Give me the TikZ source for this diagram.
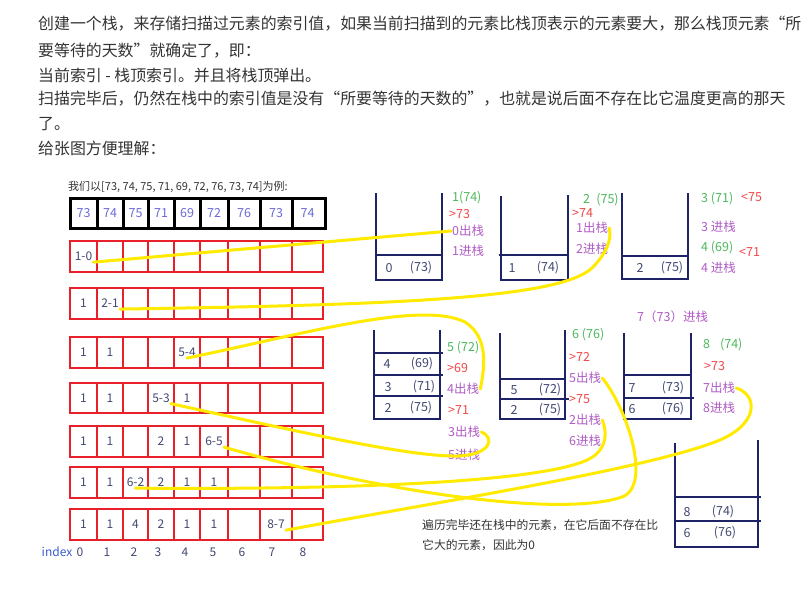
\documentclass[tikz,border=0pt]{standalone}
\usepackage{fontspec}
\setmainfont{Noto Sans CJK SC}
\usetikzlibrary{positioning}

\definecolor{bodygray}{HTML}{333333}
\definecolor{rowred}{HTML}{E8202A}
\definecolor{stacknavy}{HTML}{1E2266}
\definecolor{traceyellow}{HTML}{FFEA00}
\definecolor{cellslate}{HTML}{404870}
\definecolor{topblue}{HTML}{6A6AD8}
\definecolor{idxblue}{HTML}{3B5BCC}
\definecolor{valgreen}{HTML}{4DB85C}
\definecolor{cmpred}{HTML}{F04848}
\definecolor{oppurple}{HTML}{B05CC4}

\tikzset{
  toprow/.style={draw=black,line width=3pt},
  redrow/.style={draw=rowred,line width=2.6pt},
  stackwall/.style={draw=stacknavy,line width=2.9pt},
  trace/.style={draw=traceyellow,line width=3pt,line cap=round},
  para/.style={anchor=west,inner sep=0pt,text=bodygray,font=\fontsize{15.9}{16}\selectfont},
  note/.style={anchor=west,inner sep=0pt,text=bodygray,font=\fontsize{11.8}{12}\selectfont},
  cellnum/.style={inner sep=1pt,text=cellslate,font=\fontsize{12}{12}\selectfont},
  topnum/.style={inner sep=1pt,text=topblue,font=\fontsize{12.5}{13}\selectfont},
  stackitem/.style={inner sep=1pt,text=cellslate,font=\fontsize{12.5}{13}\selectfont},
  lbl/.style={anchor=west,inner sep=1pt,font=\fontsize{12.5}{13}\selectfont},
  arrival/.style={lbl,text=valgreen},
  cmp/.style={lbl,text=cmpred},
  stackop/.style={lbl,text=oppurple}
}

\def\colx{{83.5,110,135.5,161,187,214,244,276,307.5}}

\begin{document}
\begin{tikzpicture}[x=1pt,y=-1pt]
        \useasboundingbox (0,0) rectangle (812,592);

        % Explanation text
        \node[para] (p1) at (38,24) {创建一个栈，来存储扫描过元素的索引值，如果当前扫描到的元素比栈顶表示的元素要大，那么栈顶元素“所};
        \node[para] (p2) at (38,51) {要等待的天数”就确定了，即：};
        \node[para] (p3) at (38,75) {当前索引 - 栈顶索引。并且将栈顶弹出。};
        \node[para] (p4) at (38,99) {扫描完毕后，仍然在栈中的索引值是没有“所要等待的天数的”，也就是说后面不存在比它温度更高的那天};
        \node[para] (p5) at (38,124) {了。};
        \node[para] (p6) at (38,148) {给张图方便理解：};

        % Input array
        \node[note,font=\fontsize{11}{11}\selectfont] (title) at (68,187) {我们以[73, 74, 75, 71, 69, 72, 76, 73, 74]为例:};
        \draw[toprow] (70,198) rectangle (325,228);
        \foreach \x in {97,123,148,174,200,228,260,292}
            \draw[toprow] (\x,198) -- (\x,228);
        \foreach \v [count=\c from 0] in {73,74,75,71,69,72,76,73,74} {
            \pgfmathsetmacro\cx{\colx[\c]}
            \node[topnum] (t\c) at (\cx,213) {\v};
        }

        % Result rows, one per pop
        \foreach \t/\b in {241/272,288/319,337/368,383/413,426/457,467/498,509/540} {
            \draw[redrow] (70,\t) rectangle (323,\b);
            \foreach \x in {97,123,148,174,200,228,260,292}
                \draw[redrow] (\x,\t) -- (\x,\b);
        }
        \foreach \r/\y/\vals in {1/256.5/{0/1-0},
                                2/303.5/{0/1,1/2-1},
                                3/352.5/{0/1,1/1,4/5-4},
                                4/398/{0/1,1/1,3/5-3,4/1},
                                5/441.5/{0/1,1/1,3/2,4/1,5/6-5},
                                6/482.5/{0/1,1/1,2/6-2,3/2,4/1,5/1},
                                7/524.5/{0/1,1/1,2/4,3/2,4/1,5/1,7/8-7}} {
            \foreach \c/\t in \vals {
                \pgfmathsetmacro\cx{\colx[\c]}
                \node[cellnum] (c\r-\c) at (\cx,\y) {\t};
            }
        }

        % Index line
        \node[cellnum,text=idxblue] (idx) at (57,552) {index};
        \foreach \d/\x in {0/80,1/107,2/134,3/158,4/185,5/213,6/242,7/272,8/303}
            \node[cellnum] (i\d) at (\x,552) {\d};

        % Stack 1
        \draw[stackwall] (376,193) -- (376,280) -- (442,280) -- (442,193);
        \draw[stackwall] (376,255) -- (442,255);
        \node[stackitem] (k1) at (389,268) {0};
        \node[stackitem] (v1) at (421,268) {(73)};
        \node[arrival] (a1) at (451,198) {1(74)};
        \node[cmp] (m1) at (448,214) {>73};
        \node[stackop] (out0) at (451,231) {0出栈};
        \node[stackop] (in1) at (451,251) {1进栈};

        % Stack 2
        \draw[stackwall] (501,196) -- (501,280) -- (568,280) -- (568,195);
        \draw[stackwall] (499,255) -- (568,255);
        \node[stackitem] (k2) at (512,268) {1};
        \node[stackitem] (v2) at (548,268) {(74)};
        \node[arrival] (a2) at (582,200) {2\hspace{0.5em}(75)};
        \node[cmp] (m2) at (571,213) {>74};
        \node[stackop] (out1) at (575,228) {1出栈};
        \node[stackop] (in2) at (575,249) {2进栈};

        % Stack 3
        \draw[stackwall] (622,193) -- (622,279) -- (688,279) -- (688,193);
        \draw[stackwall] (622,256) -- (688,256);
        \node[stackitem] (k3) at (640,268) {2};
        \node[stackitem] (v3) at (672,268) {(75)};
        \node[arrival] (a3) at (700,199) {3 (71)};
        \node[cmp] (m3) at (740,197) {<75};
        \node[stackop] (in3) at (700,227) {3 进栈};
        \node[arrival] (a4) at (700,248) {4 (69)};
        \node[cmp] (m4) at (738,252) {<71};
        \node[stackop] (in4) at (700,268) {4 进栈};
        \node[stackop] (in7) at (636,317) {7（73）进栈};

        % Stack 4
        \draw[stackwall] (374,330) -- (374,419) -- (440,419) -- (440,330);
        \foreach \y in {353,375,396}
            \draw[stackwall] (374,\y) -- (443,\y);
        \node[stackitem] (k4a) at (387,364) {4};
        \node[stackitem] (v4a) at (422,364) {(69)};
        \node[stackitem] (k4b) at (388,387) {3};
        \node[stackitem] (v4b) at (424,387) {(71)};
        \node[stackitem] (k4c) at (388,408) {2};
        \node[stackitem] (v4c) at (421,408) {(75)};
        \node[arrival] (a5) at (446,348) {5 (72)};
        \node[cmp] (m5) at (446,368) {>69};
        \node[stackop] (out4) at (446,389) {4出栈};
        \node[cmp] (m6) at (447,410) {>71};
        \node[stackop] (out3) at (447,432) {3出栈};
        \node[stackop] (in5) at (447,455) {5进栈};

        % Stack 5
        \draw[stackwall] (500,333) -- (500,419) -- (565,419) -- (565,330);
        \draw[stackwall] (500,379) -- (565,379);
        \draw[stackwall] (500,399) -- (569,399);
        \node[stackitem] (k5a) at (514,390) {5};
        \node[stackitem] (v5a) at (550,390) {(72)};
        \node[stackitem] (k5b) at (514,410) {2};
        \node[stackitem] (v5b) at (550,410) {(75)};
        \node[arrival] (a6) at (571,335) {6 (76)};
        \node[cmp] (m7) at (568,357) {>72};
        \node[stackop] (out5) at (568,378) {5出栈};
        \node[cmp] (m8) at (568,399) {>75};
        \node[stackop] (out2) at (568,420) {2出栈};
        \node[stackop] (in6) at (568,441) {6进栈};

        % Stack 6
        \draw[stackwall] (624,333) -- (624,419) -- (691,419) -- (691,333);
        \draw[stackwall] (624,375) -- (691,375);
        \draw[stackwall] (624,398) -- (694,398);
        \node[stackitem] (k6a) at (632,388) {7};
        \node[stackitem] (v6a) at (673,388) {(73)};
        \node[stackitem] (k6b) at (632,409) {6};
        \node[stackitem] (v6b) at (673,409) {(76)};
        \node[arrival] (a8) at (702,345) {8\hspace{0.8em}(74)};
        \node[cmp] (m9) at (703,366) {>73};
        \node[stackop] (out7) at (702,388) {7出栈};
        \node[stackop] (in8) at (702,408) {8进栈};

        % Stack left at the end
        \draw[stackwall] (675,443) -- (675,547) -- (758,547) -- (758,440);
        \draw[stackwall] (675,497) -- (761,497);
        \draw[stackwall] (675,521) -- (761,521);
        \node[stackitem] (k7a) at (687,512) {8};
        \node[stackitem] (v7a) at (723,512) {(74)};
        \node[stackitem] (k7b) at (687,533) {6};
        \node[stackitem] (v7b) at (725,533) {(76)};
        \node[note] (n1) at (422,525) {遍历完毕还在栈中的元素，在它后面不存在比};
        \node[note] (n2) at (422,545) {它大的元素，因此为0};

        % Yellow traces from each difference to its pop
        \draw[trace] (c1-0.south east) -- (out0.west);
        \draw[trace] (c2-1.south east) .. controls (400,305) and (560,298) .. (592,268)
                                       .. controls (606,254) and (612,240) .. (out1.east);
        \draw[trace] (c3-4.south) .. controls (300,335) and (420,300) .. (465,322)
                                  .. controls (490,338) and (484,370) .. (out4.east);
        \draw[trace] (c4-3.south east) .. controls (300,432) and (410,457) .. (458,456)
                                       .. controls (490,455) and (496,438) .. (out3.east);
        \draw[trace] (c5-5.south east) .. controls (380,492) and (560,518) .. (622,497)
                                       .. controls (652,486) and (628,410) .. (out5.east);
        \draw[trace] (c6-2.south) .. controls (350,490) and (560,482) .. (594,456)
                                  .. controls (607,446) and (607,432) .. (out2.east);
        \draw[trace] (c7-7.south east) .. controls (450,500) and (640,470) .. (715,442)
                                       .. controls (760,425) and (758,395) .. (out7.east);
    \end{tikzpicture}
\end{document}
